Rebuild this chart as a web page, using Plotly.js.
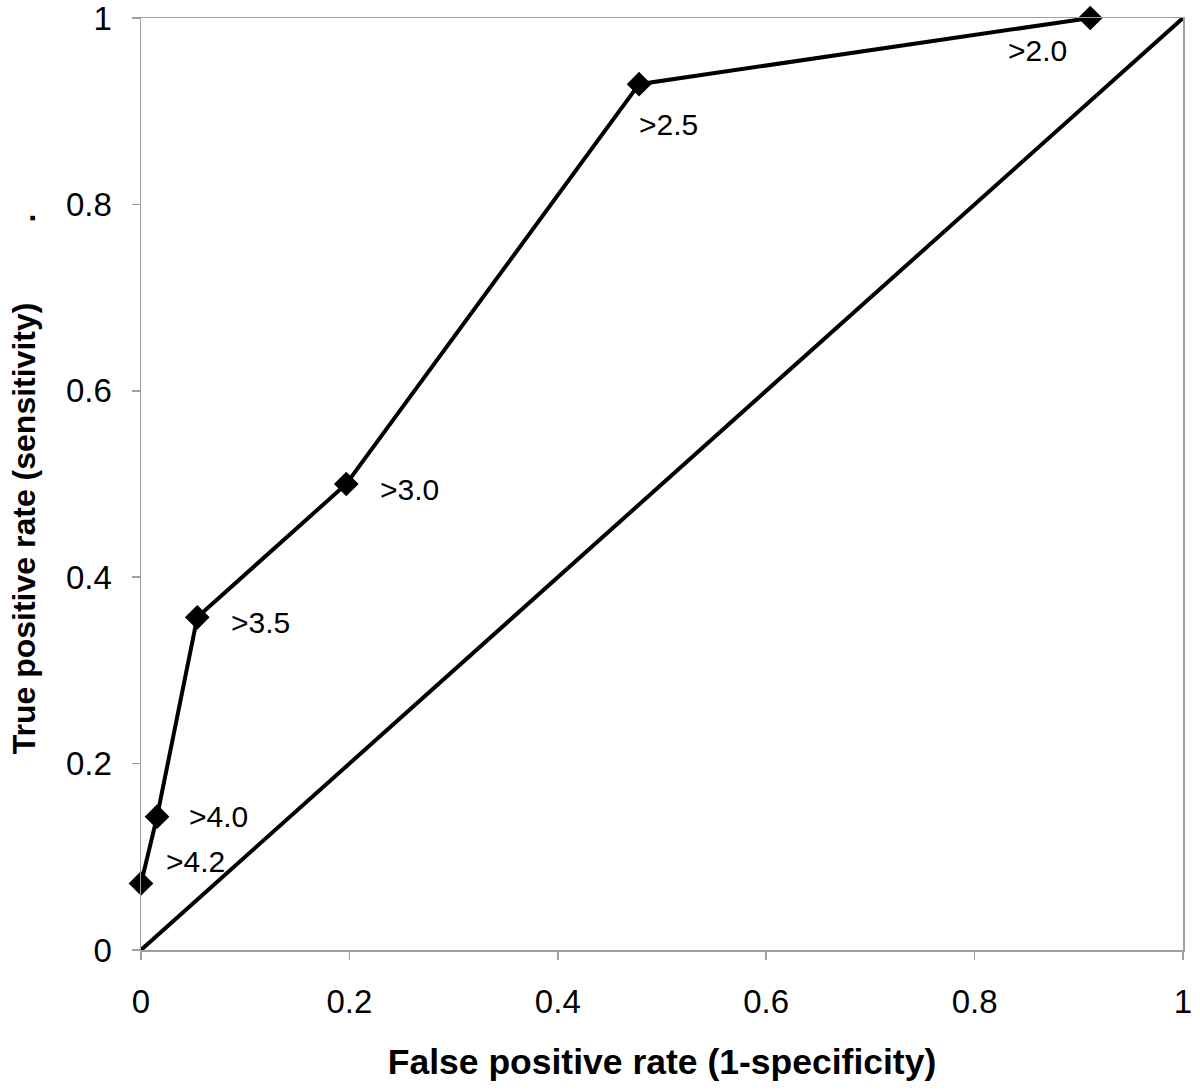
<!DOCTYPE html>
<html>
<head>
<meta charset="utf-8">
<script src="https://cdn.plot.ly/plotly-3.0.1.min.js"></script>
<style>
  body { margin: 0; background: #fff; }
  #chart { width: 1200px; height: 1092px; }
</style>
</head>
<body>
<div id="chart"></div>
<script>
// ROC points, cut-off thresholds
const fpr = [0, 0.0154, 0.054, 0.197, 0.478, 0.911];
const tpr = [0.0714, 0.143, 0.357, 0.5, 0.929, 1];
const cutoffs = ['>4.2', '>4.0', '>3.5', '>3.0', '>2.5', '>2.0'];

// chance line
const diagX = [0, 1];
const diagY = [0, 1];

// axis ticks
const tickVals = [0, 0.2, 0.4, 0.6, 0.8, 1];
const tickText = ['0', '0.2', '0.4', '0.6', '0.8', '1'];

// label offsets in px (x right, y up)
const labelShiftX = [54, 61, 63, 63, 29, -53];
const labelShiftY = [22, 0, -5, -5, -40, -32];

const FONT = 'Liberation Sans, Arial, sans-serif';

const roc = {
    x: fpr,
    y: tpr,
    mode: 'lines+markers',
    line: { color: '#000', width: 4 },
    marker: { symbol: 'diamond', size: 19, color: '#000' },
    cliponaxis: false,
    hoverinfo: 'skip'
};

const diag = {
    x: diagX,
    y: diagY,
    mode: 'lines',
    line: { color: '#000', width: 4 },
    cliponaxis: false,
    hoverinfo: 'skip'
};

let notes = [];
for (let i = 0; i < cutoffs.length; i++) {
    notes.push({
        x: fpr[i], y: tpr[i],
        xref: 'x', yref: 'y',
        text: cutoffs[i],
        showarrow: false,
        xshift: labelShiftX[i],
        yshift: labelShiftY[i],
        font: { family: FONT, size: 30, color: '#000' }
    });
}

const layout = {
    width: 1200,
    height: 1092,
    showlegend: false,
    paper_bgcolor: '#fff',
    plot_bgcolor: '#fff',
    margin: { l: 141, r: 17, t: 18, b: 142, pad: 0 },
    font: { family: FONT, color: '#000' },
    xaxis: {
        range: [0, 1],
        tickvals: tickVals,
        ticktext: tickText,
        showgrid: false,
        zeroline: false,
        showline: true,
        mirror: true,
        linecolor: '#a0a0a0',
        linewidth: 1.5,
        ticks: 'outside',
        ticklen: 8,
        tickcolor: '#a0a0a0',
        tickwidth: 1.5,
        ticklabelstandoff: 14,
        ticklabeloverflow: 'allow',
        tickfont: { family: FONT, size: 33, color: '#000' },
        title: {
            text: '<b>False positive rate (1-specificity)</b>',
            font: { family: FONT, size: 35.5, color: '#000' },
            standoff: 30
        }
    },
    yaxis: {
        range: [0, 1],
        tickvals: tickVals,
        ticktext: tickText,
        showgrid: false,
        zeroline: false,
        showline: true,
        mirror: true,
        linecolor: '#a0a0a0',
        linewidth: 1.5,
        ticks: 'outside',
        ticklen: 8,
        tickcolor: '#a0a0a0',
        tickwidth: 1.5,
        ticklabelstandoff: 13,
        ticklabeloverflow: 'allow',
        tickfont: { family: FONT, size: 33, color: '#000' },
        title: {
            text: '<b>True positive rate (sensitivity)\u00a0\u00a0\u00a0\u00a0\u00a0\u00a0\u00a0\u00a0\u00a0.</b>',
            font: { family: FONT, size: 32, color: '#000' },
            standoff: 21
        }
    },
    annotations: notes
};

Plotly.newPlot('chart', [diag, roc], layout, { displayModeBar: false, staticPlot: true });
</script>
</body>
</html>
